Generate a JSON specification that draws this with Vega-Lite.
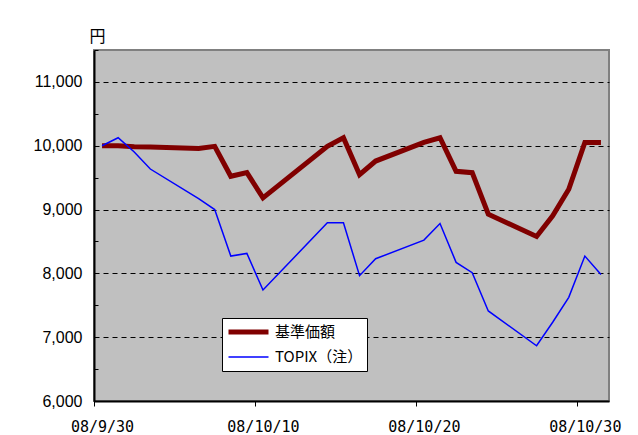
{
  "$schema": "https://vega.github.io/schema/vega-lite/v6.json",
  "width": 515,
  "height": 351,
  "autosize": "none",
  "padding": {"left": 94, "top": 50, "right": 29, "bottom": 34},
  "background": "white",
  "config": {
    "font": "Noto Sans CJK JP",
    "view": {"fill": "#C0C0C0", "stroke": "#808080", "strokeWidth": 2},
    "legend": {
      "orient": "none",
      "legendX": 128,
      "legendY": 268,
      "symbolType": "stroke",
      "symbolSize": 1600,
      "labelFontSize": 15,
      "labelColor": "black",
      "labelOffset": 4,
      "strokeColor": "black",
      "fillColor": "white",
      "padding": 4,
      "clipHeight": 20,
      "rowPadding": 5
    }
  },
  "data": {
    "values": [
      {"date": "2008-09-30 12:00", "series": "基準価額", "value": 10000},
      {"date": "2008-10-01 12:00", "series": "基準価額", "value": 10000},
      {"date": "2008-10-02 12:00", "series": "基準価額", "value": 9984},
      {"date": "2008-10-03 12:00", "series": "基準価額", "value": 9980},
      {"date": "2008-10-06 12:00", "series": "基準価額", "value": 9958},
      {"date": "2008-10-07 12:00", "series": "基準価額", "value": 9990},
      {"date": "2008-10-08 12:00", "series": "基準価額", "value": 9521},
      {"date": "2008-10-09 12:00", "series": "基準価額", "value": 9578},
      {"date": "2008-10-10 12:00", "series": "基準価額", "value": 9182},
      {"date": "2008-10-14 12:00", "series": "基準価額", "value": 9990},
      {"date": "2008-10-15 12:00", "series": "基準価額", "value": 10125},
      {"date": "2008-10-16 12:00", "series": "基準価額", "value": 9547},
      {"date": "2008-10-17 12:00", "series": "基準価額", "value": 9760},
      {"date": "2008-10-20 12:00", "series": "基準価額", "value": 10052},
      {"date": "2008-10-21 12:00", "series": "基準価額", "value": 10125},
      {"date": "2008-10-22 12:00", "series": "基準価額", "value": 9599},
      {"date": "2008-10-23 12:00", "series": "基準価額", "value": 9578},
      {"date": "2008-10-24 12:00", "series": "基準価額", "value": 8927},
      {"date": "2008-10-27 12:00", "series": "基準価額", "value": 8578},
      {"date": "2008-10-28 12:00", "series": "基準価額", "value": 8901},
      {"date": "2008-10-29 12:00", "series": "基準価額", "value": 9318},
      {"date": "2008-10-30 12:00", "series": "基準価額", "value": 10052},
      {"date": "2008-10-31 12:00", "series": "基準価額", "value": 10052},
      {"date": "2008-09-30 12:00", "series": "TOPIX（注）", "value": 10000},
      {"date": "2008-10-01 12:00", "series": "TOPIX（注）", "value": 10125},
      {"date": "2008-10-02 12:00", "series": "TOPIX（注）", "value": 9901},
      {"date": "2008-10-03 12:00", "series": "TOPIX（注）", "value": 9635},
      {"date": "2008-10-06 12:00", "series": "TOPIX（注）", "value": 9172},
      {"date": "2008-10-07 12:00", "series": "TOPIX（注）", "value": 9000},
      {"date": "2008-10-08 12:00", "series": "TOPIX（注）", "value": 8271},
      {"date": "2008-10-09 12:00", "series": "TOPIX（注）", "value": 8313},
      {"date": "2008-10-10 12:00", "series": "TOPIX（注）", "value": 7740},
      {"date": "2008-10-14 12:00", "series": "TOPIX（注）", "value": 8792},
      {"date": "2008-10-15 12:00", "series": "TOPIX（注）", "value": 8792},
      {"date": "2008-10-16 12:00", "series": "TOPIX（注）", "value": 7964},
      {"date": "2008-10-17 12:00", "series": "TOPIX（注）", "value": 8229},
      {"date": "2008-10-20 12:00", "series": "TOPIX（注）", "value": 8521},
      {"date": "2008-10-21 12:00", "series": "TOPIX（注）", "value": 8781},
      {"date": "2008-10-22 12:00", "series": "TOPIX（注）", "value": 8172},
      {"date": "2008-10-23 12:00", "series": "TOPIX（注）", "value": 8010},
      {"date": "2008-10-24 12:00", "series": "TOPIX（注）", "value": 7411},
      {"date": "2008-10-27 12:00", "series": "TOPIX（注）", "value": 6865},
      {"date": "2008-10-28 12:00", "series": "TOPIX（注）", "value": 7234},
      {"date": "2008-10-29 12:00", "series": "TOPIX（注）", "value": 7625},
      {"date": "2008-10-30 12:00", "series": "TOPIX（注）", "value": 8271},
      {"date": "2008-10-31 12:00", "series": "TOPIX（注）", "value": 7984}
    ]
  },
  "encoding": {
    "x": {
      "field": "date",
      "type": "temporal",
      "scale": {
        "domain": [
          {"year": 2008, "month": 9, "date": 30},
          {"year": 2008, "month": 11, "date": 1}
        ]
      },
      "axis": {
        "title": null,
        "grid": false,
        "values": [
          {"year": 2008, "month": 9, "date": 30},
          {"year": 2008, "month": 10, "date": 10},
          {"year": 2008, "month": 10, "date": 20},
          {"year": 2008, "month": 10, "date": 30}
        ],
        "format": "%y/%-m/%-d",
        "labelOffset": 8,
        "labelFont": "DejaVu Sans Mono",
        "labelFontSize": 15,
        "labelColor": "black",
        "labelPadding": 13,
        "labelFlush": false,
        "labelOverlap": false,
        "domainColor": "black",
        "domainWidth": 2,
        "tickColor": "black",
        "tickSize": 5,
        "tickWidth": 1
      }
    },
    "y": {
      "field": "value",
      "type": "quantitative",
      "scale": {"domain": [6000, 11500], "nice": false, "zero": false},
      "axis": {
        "title": "円",
        "titleAngle": 0,
        "titleAlign": "center",
        "titleBaseline": "alphabetic",
        "titleX": 3,
        "titleY": -9,
        "titleFontSize": 16,
        "titleFontWeight": "normal",
        "titleColor": "black",
        "values": [6000, 6500, 7000, 7500, 8000, 8500, 9000, 9500, 10000, 10500, 11000, 11500],
        "labelExpr": "datum.value % 1000 === 0 ? format(datum.value, ',') : ''",
        "labelFont": "Liberation Sans",
        "labelFontSize": 16,
        "labelColor": "black",
        "labelPadding": 16,
        "domainColor": "black",
        "domainWidth": 2,
        "tickColor": "black",
        "tickSize": -4,
        "grid": true,
        "gridColor": "black",
        "gridDash": [5, 4],
        "gridWidth": 1,
        "gridOpacity": {"condition": {"test": "datum.value % 1000 === 0 && datum.value > 6000", "value": 1}, "value": 0}
      }
    },
    "color": {
      "field": "series",
      "type": "nominal",
      "scale": {"domain": ["基準価額", "TOPIX（注）"], "range": ["#800000", "#0000FF"]},
      "legend": {"title": null}
    },
    "strokeWidth": {
      "field": "series",
      "type": "nominal",
      "scale": {"domain": ["基準価額", "TOPIX（注）"], "range": [5, 1.5]},
      "legend": {"title": null}
    }
  },
  "layer": [
    {
      "transform": [{"filter": "datum.series === '基準価額'"}],
      "mark": {"type": "line", "strokeJoin": "miter"}
    },
    {
      "transform": [{"filter": "datum.series !== '基準価額'"}],
      "mark": {"type": "line"}
    }
  ]
}
